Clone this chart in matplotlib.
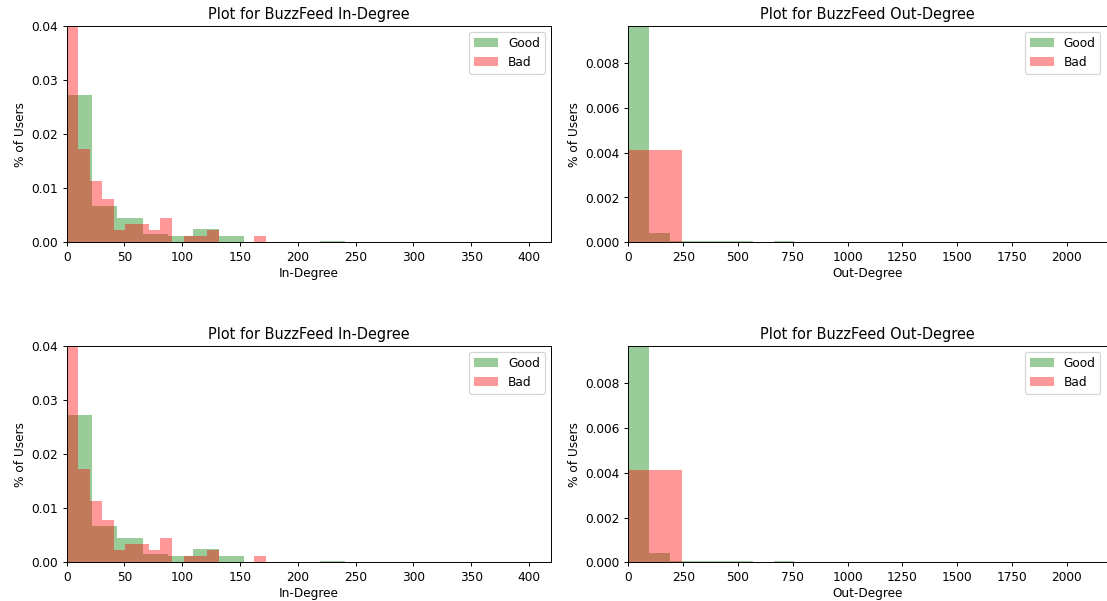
import numpy as np
import matplotlib
matplotlib.use('Agg')
import matplotlib.pyplot as plt

# In-degree histograms (density per bin)
in_good_max = 241
in_good_bins = 11
in_good_heights = [0.0273, 0.0067, 0.0044, 0.0016, 0.0011, 0.0025, 0.0011,
                   0.0, 0.0, 0.0, 0.00025]
in_bad_max = 172.4
in_bad_bins = 17
in_bad_heights = [0.0416, 0.0173, 0.0113, 0.0079, 0.0022, 0.0033, 0.0033,
                  0.0022, 0.0044, 0.0, 0.0011, 0.0011, 0.0022, 0.0, 0.0,
                  0.0, 0.0011]

# Out-degree histograms
out_good_max = 757
out_good_bins = 8
out_good_heights = [0.0099, 0.00041, 0.00007, 0.00006, 0.00006, 0.00006,
                    0.0, 0.00006]
out_bad_max = 243
out_bad_bins = 1
out_bad_heights = [0.00412]

in_yticks = [0.0, 0.01, 0.02, 0.03, 0.04]


def draw(ax, good_max, good_bins, good_h, bad_max, bad_bins, bad_h,
         title, xlabel, xlim, ylim):
	ge = np.linspace(0, good_max, good_bins + 1)
	be = np.linspace(0, bad_max, bad_bins + 1)
	ax.hist(ge[:-1], bins=ge, weights=good_h, color='green', alpha=0.4,
	        label='Good')
	ax.hist(be[:-1], bins=be, weights=bad_h, color='red', alpha=0.4,
	        label='Bad')
	ax.set_xlim(*xlim)
	ax.set_ylim(*ylim)
	ax.set_title(title)
	ax.set_xlabel(xlabel, labelpad=2.5)
	ax.set_ylabel('% of Users')
	ax.legend(loc='upper right')


DPI = 87
fig = plt.figure(figsize=(1107.2/DPI, 601.2/DPI), dpi=DPI)
rows = [0.5968, 0.0644]
for b in rows:
	ax1 = fig.add_axes([0.0602, b, 0.4373, 0.3599])
	draw(ax1, in_good_max, in_good_bins, in_good_heights,
	     in_bad_max, in_bad_bins, in_bad_heights,
	     'Plot for BuzzFeed In-Degree', 'In-Degree', (0, 419), (0, 0.040))
	ax1.set_yticks(in_yticks)
	ax2 = fig.add_axes([0.5676, b, 0.4318, 0.3599])
	draw(ax2, out_good_max, out_good_bins, out_good_heights,
	     out_bad_max, out_bad_bins, out_bad_heights,
	     'Plot for BuzzFeed Out-Degree', 'Out-Degree', (0, 2182), (0, 0.00967))

fig.savefig('out.png', dpi=DPI)
